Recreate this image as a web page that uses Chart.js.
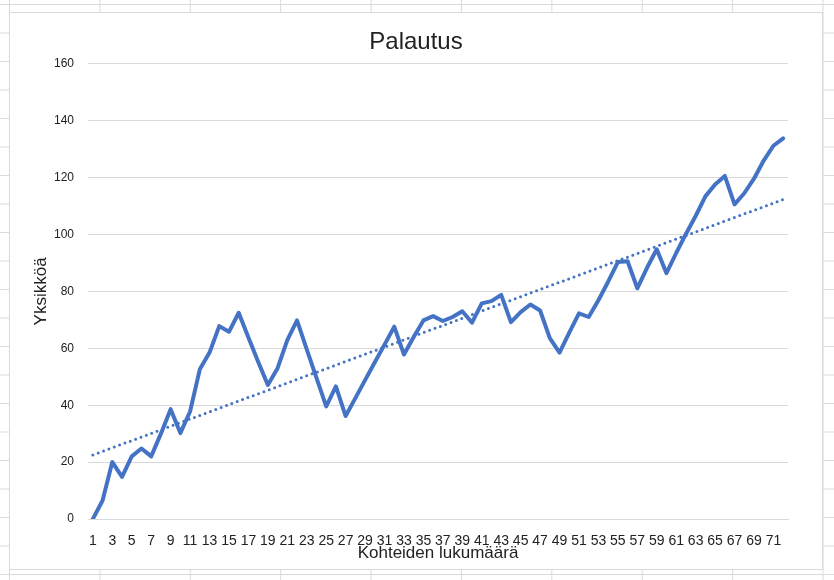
<!DOCTYPE html>
<html>
<head>
<meta charset="utf-8">
<script src="https://cdn.jsdelivr.net/npm/chart.js@4.4.1/dist/chart.umd.min.js"></script>
<style>
    html, body {
        margin: 0;
        padding: 0;
        width: 834px;
        height: 580px;
        overflow: hidden;
        background-color: #fff;
        /* taulukon solujen viivat taustalla */
        background-image:
            linear-gradient(to right, #dadada 1px, transparent 1px),
            linear-gradient(to bottom, #dadada 1px, transparent 1px);
        background-size: 90.4px 28.5px;
        background-position: 9px 4px;
    }
    #chartBox {
        position: absolute;
        left: 9px;
        top: 12px;
        width: 812px;
        height: 556px;
        border: 1px solid #d9d9d9;
        background: #fff;
    }
</style>
</head>
<body>
<div id="chartBox">
    <canvas id="palautusChart" width="812" height="556"></canvas>
</div>
<script>
const labels = Array.from({ length: 72 }, (_, i) => String(i + 1));

const palautus = [
    0, 6.5, 20, 14.8, 22, 24.8, 22, 30, 38.6, 30.2,
    37.8, 52.6, 58.5, 67.8, 65.8, 72.5, 63.8, 55.3, 47.1, 53,
    62.9, 69.8, 59.6, 49.6, 39.6, 46.6, 36.2, 42.5, 48.8, 55.1,
    61.3, 67.6, 57.8, 64, 69.8, 71.3, 69.6, 71, 73, 69,
    75.8, 76.6, 78.8, 69.2, 72.7, 75.4, 73.3, 63.6, 58.5, 65.5,
    72.3, 71, 76.9, 83.4, 90.3, 90.6, 81.1, 88.3, 94.8, 86.4,
    93.5, 100.2, 106.5, 113.4, 117.6, 120.6, 110.6, 114.5, 119.6, 126,
    131.2, 133.8
];

// trendiviivan alku- ja loppuarvo kuvasta luettuna
const trendEnds = [22.5, 112.3];

const yTicks = [0, 20, 40, 60, 80, 100, 120, 140, 160];

const trendData = labels.map((_, i) => {
    if (i === 0) return trendEnds[0];
    if (i === labels.length - 1) return trendEnds[1];
    return null;
});

const blue = '#4472C4';
const sans = "'Liberation Sans', Arial, sans-serif";

const ctx = document.getElementById('palautusChart').getContext('2d');

new Chart(ctx, {
    type: 'line',
    data: {
        labels: labels,
        datasets: [{
            label: 'Palautus',
            data: palautus,
            borderColor: blue,
            borderWidth: 4,
            borderJoinStyle: 'round',
            borderCapStyle: 'round',
            pointRadius: 0,
            tension: 0,
            fill: false
        }, {
            label: 'Trendi',
            data: trendData,
            spanGaps: true,
            borderColor: blue,
            borderWidth: 3,
            borderDash: [0, 5.7],
            borderCapStyle: 'round',
            pointRadius: 0,
            fill: false
        }]
    },
    options: {
        responsive: false,
        animation: false,
        layout: {
            padding: 0
        },
        plugins: {
            legend: { display: false },
            tooltip: { enabled: false },
            title: {
                display: true,
                text: 'Palautus',
                color: '#222',
                font: { family: sans, size: 24, weight: 'normal' },
                padding: { top: 15, bottom: 7 }
            }
        },
        scales: {
            x: {
                offset: true,
                grid: { display: false },
                border: { display: true, color: '#d9d9d9', width: 1 },
                ticks: {
                    autoSkip: false,
                    maxRotation: 0,
                    padding: 6,
                    color: '#222',
                    font: { family: sans, size: 14 },
                    callback: function(value, index) {
                        return index % 2 === 0 ? labels[index] : '';
                    }
                },
                title: {
                    display: true,
                    text: 'Kohteiden lukumäärä',
                    color: '#222',
                    font: { family: sans, size: 17 },
                    padding: { top: 0, bottom: 5 }
                },
                afterFit: function(scale) { scale.height = 50; }
            },
            y: {
                min: 0,
                max: 160,
                afterBuildTicks: function(scale) {
                    scale.ticks = yTicks.map(v => ({ value: v }));
                },
                grid: { color: '#d9d9d9', lineWidth: 1, drawTicks: false },
                border: { display: false },
                ticks: {
                    padding: 14,
                    color: '#222',
                    font: { family: sans, size: 12 }
                },
                title: {
                    display: true,
                    text: 'Yksikköä',
                    color: '#222',
                    font: { family: sans, size: 17 },
                    padding: { top: 21, bottom: 0 }
                },
                afterFit: function(scale) { scale.width = 78; }
            },
            // tyhjä oikea akseli, jotta piirtoalue jää oikealta kapeammaksi
            yRight: {
                position: 'right',
                display: true,
                grid: { display: false },
                border: { display: false },
                ticks: { display: false },
                afterFit: function(scale) { scale.width = 34; }
            }
        }
    }
});
</script>
</body>
</html>
